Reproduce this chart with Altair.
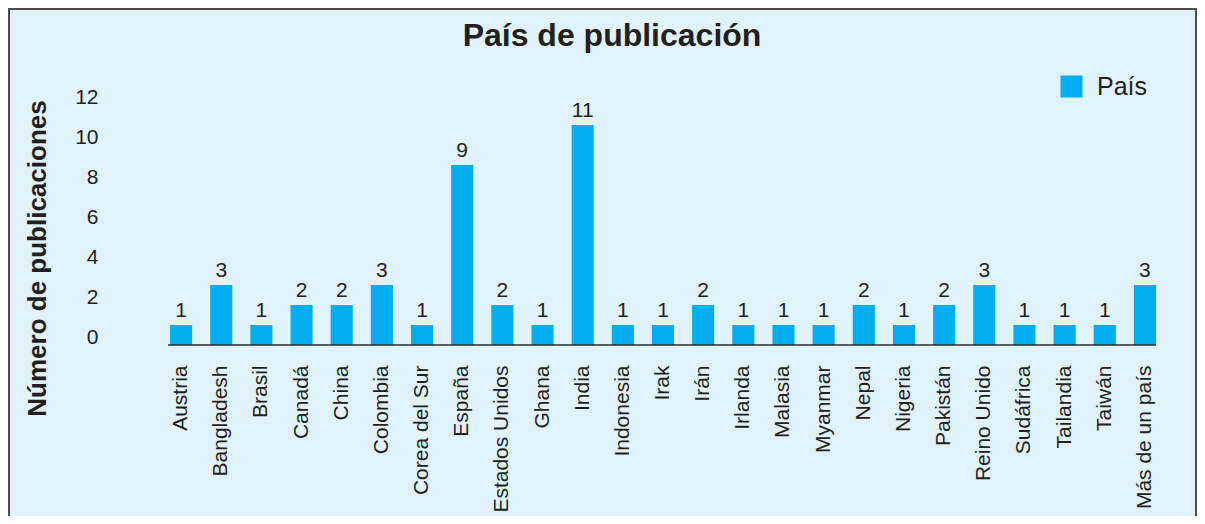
import altair as alt
import pandas as pd

paises = ["Austria", "Bangladesh", "Brasil", "Canadá", "China", "Colombia",
          "Corea del Sur", "España", "Estados Unidos", "Ghana", "India",
          "Indonesia", "Irak", "Irán", "Irlanda", "Malasia", "Myanmar",
          "Nepal", "Nigeria", "Pakistán", "Reino Unido", "Sudáfrica",
          "Tailandia", "Taiwán", "Más de un país"]
publicaciones = [1, 3, 1, 2, 2, 3, 1, 9, 2, 1, 11, 1, 1, 2, 1, 1, 1, 2, 1, 2, 3, 1, 1, 1, 3]
serie = "País"
y_ticks = [0, 2, 4, 6, 8, 10, 12]

df = pd.DataFrame({"pais": paises, "n": publicaciones, "serie": serie})

FONT = "Liberation Sans"
TXT = "#231F20"
BAR = "#00AEEF"
BG = "#E0F3FA"
W, H = 1004, 240
PL, PT, PR, PB = 153, 97, 32, 171

x = alt.X("pais:N", sort=paises, title=None,
          scale=alt.Scale(paddingInner=0.45, paddingOuter=0.225),
          axis=alt.Axis(labelAngle=-90, labelAlign="right", labelBaseline="middle",
                        labelPadding=20, ticks=False, domain=False,
                        labelFontSize=21, labelColor=TXT, labelFont=FONT))
y = alt.Y("n:Q", title="Número de publicaciones",
          scale=alt.Scale(domain=[0, 12], nice=False),
          axis=alt.Axis(values=y_ticks, ticks=False, domain=False, grid=False,
                        labelOverlap=False, labelFlush=False, labelBound=False,
                        labelOffset=-7.5, labelPadding=63, labelFontSize=21,
                        labelColor=TXT, labelFont=FONT,
                        titleFontSize=26, titleFontWeight="bold", titleColor=TXT,
                        titleFont=FONT, titleX=-124, titleY=153,
                        titleAlign="center", titleBaseline="middle", titleAngle=-90))

bars = alt.Chart(df).mark_bar().encode(
    x=x, y=y,
    color=alt.Color("serie:N", scale=alt.Scale(domain=[serie], range=[BAR]),
                    legend=alt.Legend(title=None, orient="none", legendX=898, legendY=-31,
                                      symbolType="square", symbolSize=484,
                                      symbolStrokeWidth=0, labelFontSize=25,
                                      labelFont=FONT, labelColor=TXT, labelOffset=13,
                                      padding=0)))

labels = alt.Chart(df).mark_text(baseline="bottom", dy=-4, fontSize=21,
                                 font=FONT, color=TXT).encode(
    x=x, y=y, text="n:Q")

one = pd.DataFrame({"k": [0]})
baseline = alt.Chart(one).mark_rule(color="#2b2b2b", strokeWidth=1.5).encode(
    x=alt.value(7), x2=alt.value(995), y=alt.value(H))
frame_color = "#4D4D4D"
left = alt.Chart(one).mark_rule(color=frame_color, strokeWidth=2).encode(
    x=alt.value(-PL + 1), y=alt.value(-PT), y2=alt.value(H + PB))
top = alt.Chart(one).mark_rule(color=frame_color, strokeWidth=2).encode(
    y=alt.value(-PT + 1), x=alt.value(-PL), x2=alt.value(W + PR))
right = alt.Chart(one).mark_rule(color=frame_color, strokeWidth=2).encode(
    x=alt.value(W + PR - 1), y=alt.value(-PT), y2=alt.value(H + PB))

chart = alt.layer(bars, labels, baseline, left, top, right).properties(
    width=W, height=H,
    autosize=alt.AutoSizeParams(type="none"),
    padding={"left": PL, "top": PT, "right": PR, "bottom": PB},
    background=BG,
    title=alt.TitleParams("País de publicación", fontSize=32, fontWeight="bold",
                          font=FONT, color=TXT, anchor="middle", frame="group",
                          dx=-51, offset=-46),
).configure_view(stroke=None)

chart.save("out.html", embed_options={"renderer": "svg", "actions": False})
